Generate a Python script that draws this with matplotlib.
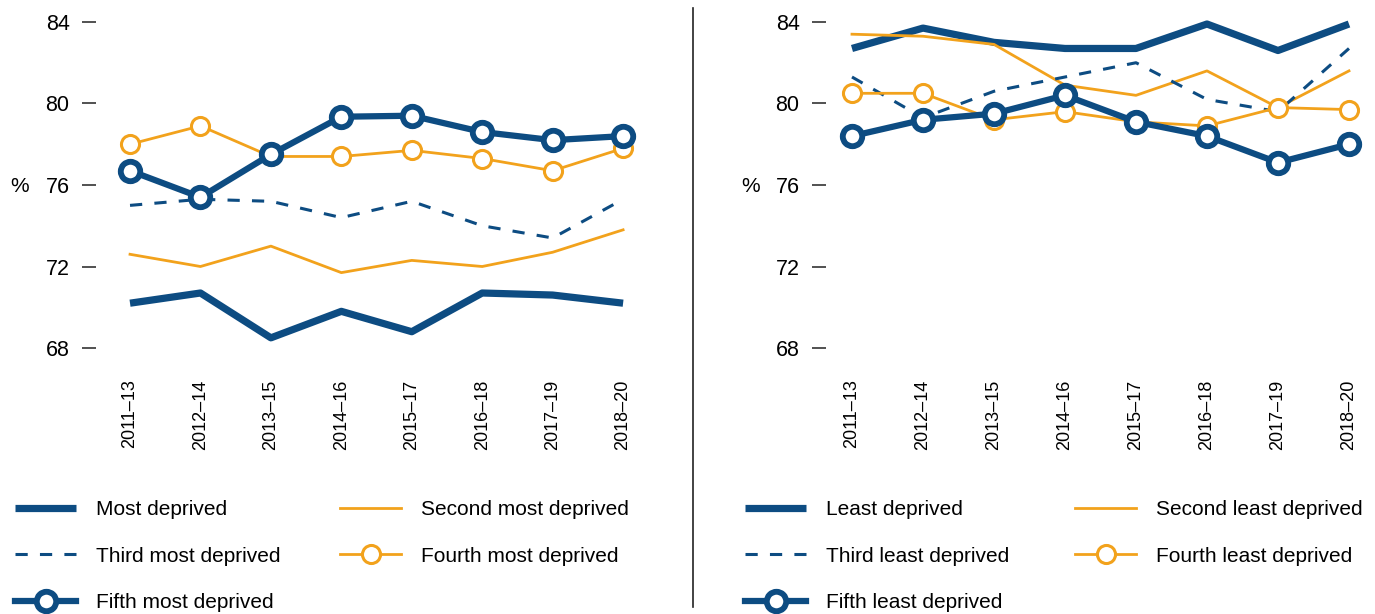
import matplotlib
matplotlib.use("Agg")
import matplotlib.pyplot as plt
from matplotlib import font_manager
from matplotlib.lines import Line2D

# font: narrow sans if it is there
names = set(f.name for f in font_manager.fontManager.ttflist)
fam = "Liberation Sans Narrow" if "Liberation Sans Narrow" in names else "Liberation Sans"
plt.rcParams["font.family"] = [fam, "DejaVu Sans"]

periods = ["2011–13", "2012–14", "2013–15", "2014–16", "2015–17", "2016–18", "2017–19", "2018–20"]

# most deprived side
most_1 = [70.2, 70.7, 68.5, 69.8, 68.8, 70.7, 70.6, 70.2]
most_2 = [72.6, 72.0, 73.0, 71.7, 72.3, 72.0, 72.7, 73.8]
most_3 = [75.0, 75.3, 75.2, 74.4, 75.2, 74.0, 73.4, 75.3]
most_4 = [78.0, 78.9, 77.4, 77.4, 77.7, 77.3, 76.7, 77.8]
most_5 = [76.7, 75.4, 77.5, 79.35, 79.4, 78.6, 78.2, 78.4]

# least deprived side
least_1 = [82.7, 83.7, 83.0, 82.7, 82.7, 83.9, 82.6, 83.9]
least_2 = [83.4, 83.3, 82.9, 80.9, 80.4, 81.6, 79.8, 81.6]
least_3 = [81.3, 79.3, 80.6, 81.3, 82.0, 80.2, 79.6, 82.7]
least_4 = [80.5, 80.5, 79.2, 79.6, 79.1, 78.9, 79.8, 79.7]
least_5 = [78.4, 79.2, 79.5, 80.4, 79.1, 78.4, 77.1, 78.0]

labels_most = ["Most deprived", "Second most deprived", "Third most deprived",
               "Fourth most deprived", "Fifth most deprived"]
labels_least = ["Least deprived", "Second least deprived", "Third least deprived",
                "Fourth least deprived", "Fifth least deprived"]

navy = "#0d4c82"
orange = "#f2a21c"

styles = [
    dict(color=navy, lw=5.2, solid_capstyle="butt"),
    dict(color=orange, lw=2.0),
    dict(color=navy, lw=2.2, ls=(0, (4, 4))),
    dict(color=orange, lw=2.0, marker="o", ms=13, mfc="white", mec=orange, mew=2.2),
    dict(color=navy, lw=4.5, marker="o", ms=14, mfc="white", mec=navy, mew=4.2),
]

W, H = 1375, 614
fig = plt.figure(figsize=(W / 100, H / 100), dpi=100)

def px(x0, x1, y0, y1):
    return [x0 / W, 1 - y1 / H, (x1 - x0) / W, (y1 - y0) / H]

ax1 = fig.add_axes(px(96, 640, 1.6, 368.4))
ax2 = fig.add_axes(px(826, 1370, 1.6, 368.4))

x = list(range(len(periods)))

def draw(ax, series, labels, xlim, legx):
    handles = []
    for s, lab, st in zip(series, labels, styles):
        h, = ax.plot(x, s, label=lab, **st)
        handles.append(h)
    ax.set_xlim(*xlim)
    ax.set_ylim(67, 85)
    ax.set_yticks([68, 72, 76, 80, 84])
    ax.set_xticks(x)
    ax.set_xticklabels(periods, rotation=90)
    for sp in ax.spines.values():
        sp.set_visible(False)
    ax.tick_params(axis="y", length=10, width=1.1, color="#222222", pad=9, labelsize=15.5)
    ax.tick_params(axis="x", length=0, pad=8, labelsize=13)
    # legend in two columns, placed one column at a time
    col1 = [handles[0], handles[2], handles[4]]
    col2 = [handles[1], handles[3]]
    for hs, lx in zip([col1, col2], legx):
        fig.legend(hs, [h.get_label() for h in hs], loc="upper left",
                   bbox_to_anchor=(lx / W, 1 - 500 / H), frameon=False,
                   fontsize=15, handlelength=2.95, handletextpad=0.95,
                   labelspacing=1.32, borderpad=0, borderaxespad=0)

draw(ax1, [most_1, most_2, most_3, most_4, most_5], labels_most,
     (-0.483, 7.24), (15, 340))
draw(ax2, [least_1, least_2, least_3, least_4, least_5], labels_least,
     (-0.366, 7.296), (745, 1075))

fig.text(20 / W, 1 - 186 / H, "%", ha="center", va="center", fontsize=15)
fig.text(751 / W, 1 - 186 / H, "%", ha="center", va="center", fontsize=15)

fig.add_artist(Line2D([693 / W, 693 / W], [1 - 8 / H, 1 - 607 / H],
                      transform=fig.transFigure, color="#222222", lw=1.2))

fig.savefig("out.png", dpi=100)
